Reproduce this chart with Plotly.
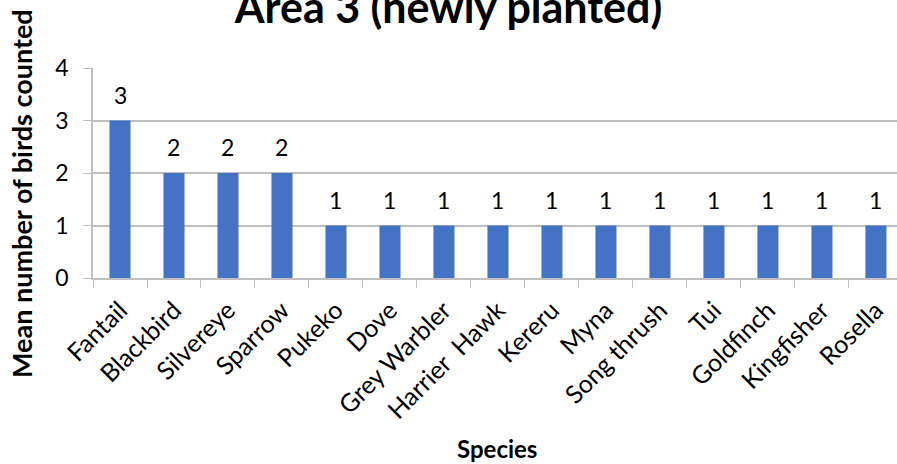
import plotly.graph_objects as go

# Mean bird counts per species, Area 3
species = ["Fantail", "Blackbird", "Silvereye", "Sparrow", "Pukeko", "Dove",
           "Grey Warbler", "Harrier  Hawk", "Kereru", "Myna", "Song thrush",
           "Tui", "Goldfinch", "Kingfisher", "Rosella"]
mean_counts = [3, 2, 2, 2, 1, 1, 1, 1, 1, 1, 1, 1, 1, 1, 1]
y_ticks = [0, 1, 2, 3, 4]

FONT = "Lato, Calibri, Carlito, sans-serif"
BAR = "#4472C4"
GRID = "#BFBFBF"

fig = go.Figure(go.Bar(
    x=species,
    y=mean_counts,
    marker=dict(color=BAR, line=dict(width=0)),
    hoverinfo="x+y",
))

# value labels sitting above each bar
for name, val in zip(species, mean_counts):
    fig.add_annotation(
        x=name, y=val, xref="x", yref="y",
        text=str(val), showarrow=False,
        yanchor="bottom", yshift=10,
        font=dict(family=FONT, size=23, color="#000000"),
    )

# axis titles
fig.add_annotation(
    x=(21 - 93) / 804, y=0.40, xref="paper", yref="paper",
    text="<b>Mean number of birds counted</b>", textangle=-90,
    showarrow=False, xanchor="center", yanchor="middle",
    font=dict(family=FONT, size=27, color="#000000"),
)
fig.add_annotation(
    x=0.5025, y=(278 - 448) / 210, xref="paper", yref="paper",
    text="<b>Species</b>", showarrow=False,
    xanchor="center", yanchor="middle",
    font=dict(family=FONT, size=24, color="#000000"),
)

fig.update_layout(
    width=897, height=464,
    margin=dict(l=93, r=0, t=68, b=186),
    paper_bgcolor="white", plot_bgcolor="white",
    bargap=0.61,
    showlegend=False,
    title=dict(text="<b>Area 3 (newly planted)</b>",
               font=dict(family=FONT, size=43, color="#000000"),
               x=0.5, xanchor="center", xref="container",
               y=1.0 - 8 / 464, yanchor="middle", yref="container"),
    font=dict(family=FONT, color="#000000"),
)

fig.update_xaxes(
    type="category",
    range=[-0.5, 14.39],
    tickangle=-45,
    tickfont=dict(family=FONT, size=25, color="#000000"),
    showline=True, linecolor=GRID, linewidth=1.5,
    ticks="outside", tickson="boundaries", ticklen=8, tickcolor=GRID,
    ticklabelstandoff=6,
    showgrid=False,
)

fig.update_yaxes(
    range=[0, 4],
    tickvals=y_ticks,
    tickfont=dict(family=FONT, size=23, color="#000000"),
    showgrid=True, gridcolor=GRID, gridwidth=1.5,
    showline=True, linecolor=GRID, linewidth=1.5,
    ticks="outside", ticklen=8, tickcolor=GRID,
    ticklabelstandoff=10,
    zeroline=False,
)

fig.write_html("out.html")
